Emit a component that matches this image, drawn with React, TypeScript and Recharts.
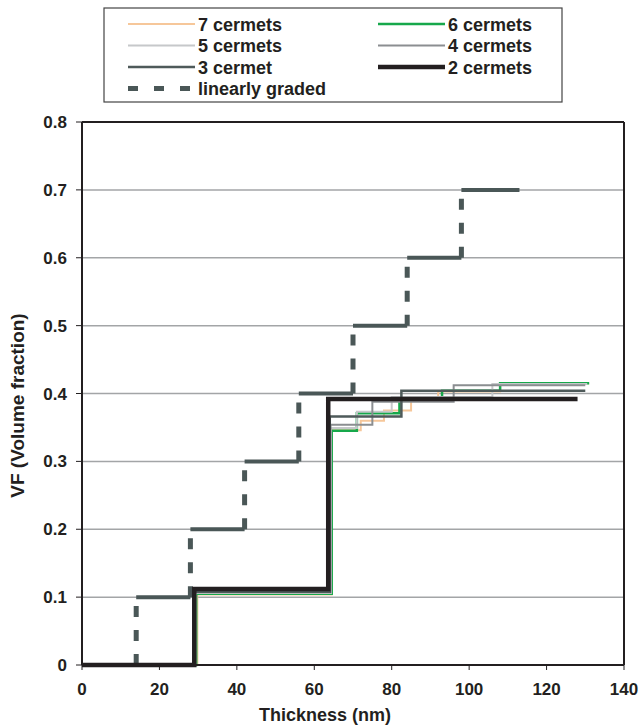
import React from "react";
import {
  LineChart,
  Line,
  XAxis,
  YAxis,
  CartesianGrid,
  ReferenceLine,
} from "recharts";

// layer boundaries (nm) and volume fraction of each layer
const cermet7X = [0, 29.8, 64.5, 72, 78, 85, 92, 108, 131];
const cermet7VF = [0, 0.104, 0.346, 0.36, 0.375, 0.39, 0.403, 0.415];
const cermet6X = [0, 29.5, 64.5, 71, 82, 93, 108, 131];
const cermet6VF = [0, 0.105, 0.345, 0.371, 0.392, 0.404, 0.415];
const cermet5X = [0, 29.3, 64.3, 71, 80, 106, 130.5];
const cermet5VF = [0, 0.106, 0.349, 0.373, 0.395, 0.414];
const cermet4X = [0, 29.2, 64.2, 75, 96, 130];
const cermet4VF = [0, 0.107, 0.354, 0.388, 0.412];
const cermet3X = [0, 29, 64, 82.5, 130];
const cermet3VF = [0, 0.108, 0.366, 0.404];
const cermet2X = [0, 29, 63.6, 128];
const cermet2VF = [0, 0.112, 0.392];
const gradedX = [0, 14, 28, 42, 56, 70, 84, 98, 113];
const gradedVF = [0, 0.1, 0.2, 0.3, 0.4, 0.5, 0.6, 0.7];

const xTicks = [0, 20, 40, 60, 80, 100, 120, 140];
const yTicks = [0, 0.1, 0.2, 0.3, 0.4, 0.5, 0.6, 0.7, 0.8];

const FONT = '"Liberation Sans", Arial, sans-serif';
const INK = "#231f20";

type Pt = { x: number; y: number | null };

// turn boundaries + levels into step points
const steps = (xs: number[], vf: number[]): Pt[] => {
  const pts: Pt[] = [];
  vf.forEach((v, i) => {
    pts.push({ x: xs[i], y: v });
    pts.push({ x: xs[i + 1], y: v });
  });
  return pts;
};

// horizontal parts of the graded profile (drawn solid)
const treads = (xs: number[], vf: number[]): Pt[] => {
  const pts: Pt[] = [];
  vf.forEach((v, i) => {
    pts.push({ x: xs[i], y: v }, { x: xs[i + 1], y: v }, { x: xs[i + 1], y: null });
  });
  return pts;
};

// vertical parts of the graded profile (drawn dashed)
const risers = (xs: number[], vf: number[]): Pt[] => {
  const pts: Pt[] = [];
  for (let i = 1; i < vf.length; i++) {
    pts.push({ x: xs[i], y: vf[i - 1] }, { x: xs[i], y: vf[i] }, { x: xs[i], y: null });
  }
  return pts;
};

const series = [
  { name: "7 cermets", xs: cermet7X, vf: cermet7VF, color: "#f6c79a", width: 2 },
  { name: "6 cermets", xs: cermet6X, vf: cermet6VF, color: "#17a84b", width: 2.5 },
  { name: "5 cermets", xs: cermet5X, vf: cermet5VF, color: "#c6c8ca", width: 2 },
  { name: "4 cermets", xs: cermet4X, vf: cermet4VF, color: "#8b8e91", width: 2 },
  { name: "3 cermet", xs: cermet3X, vf: cermet3VF, color: "#4e5a5a", width: 2.5 },
  { name: "2 cermets", xs: cermet2X, vf: cermet2VF, color: INK, width: 4.5 },
];
const GRADED = "#4a5757";

const LegendBox = () => {
  const rowY = (r: number) => 24 + r * 21.5;
  return (
    <svg
      width={460}
      height={96}
      style={{ position: "absolute", left: 103, top: 7 }}
    >
      <rect x={1} y={1} width={458} height={94} fill="#fff" stroke="#444" strokeWidth={1.2} />
      {series.map((s, i) => {
        const col = i % 2;
        const lx = col === 0 ? 25 : 275;
        const y = rowY(Math.floor(i / 2)) - 7;
        return (
          <g key={s.name}>
            <line x1={lx} x2={lx + 67} y1={y} y2={y} stroke={s.color} strokeWidth={s.width} />
            <text x={lx + 70} y={y + 6.5} fontFamily={FONT} fontWeight="bold" fontSize={18} fill={INK}>
              {s.name}
            </text>
          </g>
        );
      })}
      <line x1={25} x2={92} y1={rowY(3) - 7} y2={rowY(3) - 7} stroke={GRADED} strokeWidth={5} strokeDasharray="10 16" />
      <text x={95} y={rowY(3) - 0.5} fontFamily={FONT} fontWeight="bold" fontSize={18} fill={INK}>
        linearly graded
      </text>
    </svg>
  );
};

const App: React.FC = () => {
  const tickStyle = { fontFamily: FONT, fontWeight: "bold", fontSize: 17, fill: INK };
  return (
    <div style={{ position: "absolute", left: 0, top: 0, width: 641, height: 726, background: "#fff" }}>
      <LineChart
        width={641}
        height={726}
        margin={{ top: 122, right: 17, left: 0, bottom: 0 }}
      >
        <CartesianGrid vertical={false} stroke="#a3a5a7" strokeWidth={1.5} />
        <XAxis
          type="number"
          dataKey="x"
          domain={[0, 140]}
          ticks={xTicks}
          height={61}
          tickSize={5}
          tickMargin={13}
          tick={tickStyle}
          stroke={INK}
          axisLine={{ stroke: INK, strokeWidth: 2 }}
          tickLine={{ stroke: INK }}
          label={({ viewBox }: any) => (
            <text
              x={viewBox.x + viewBox.width / 2 - 28}
              y={viewBox.y + 56}
              textAnchor="middle"
              fontFamily={FONT}
              fontWeight="bold"
              fontSize={18}
              fill={INK}
            >
              Thickness (nm)
            </text>
          )}
        />
        <YAxis
          type="number"
          domain={[0, 0.8]}
          ticks={yTicks}
          width={82}
          tickSize={6}
          tickMargin={9}
          tick={tickStyle}
          tickFormatter={(v: number) => (v === 0 ? "0" : v.toFixed(1))}
          axisLine={{ stroke: INK, strokeWidth: 2 }}
          tickLine={{ stroke: INK }}
          label={({ viewBox }: any) => {
            const cy = viewBox.y + viewBox.height / 2 + 12;
            return (
              <text
                x={24}
                y={cy}
                transform={`rotate(-90, 24, ${cy})`}
                textAnchor="middle"
                fontFamily={FONT}
                fontWeight="bold"
                fontSize={19}
                fill={INK}
              >
                VF (Volume fraction)
              </text>
            );
          }}
        />
        <ReferenceLine y={0.8} stroke={INK} strokeWidth={2} />
        <ReferenceLine x={140} stroke={INK} strokeWidth={2} />
        <Line
          data={treads(gradedX, gradedVF)}
          dataKey="y"
          stroke={GRADED}
          strokeWidth={4}
          dot={false}
          connectNulls={false}
          isAnimationActive={false}
        />
        <Line
          data={risers(gradedX, gradedVF)}
          dataKey="y"
          stroke={GRADED}
          strokeWidth={5}
          strokeDasharray="11 13"
          dot={false}
          connectNulls={false}
          isAnimationActive={false}
        />
        {series.map((s) => (
          <Line
            key={s.name}
            data={steps(s.xs, s.vf)}
            dataKey="y"
            name={s.name}
            stroke={s.color}
            strokeWidth={s.width}
            dot={false}
            isAnimationActive={false}
          />
        ))}
      </LineChart>
      <LegendBox />
    </div>
  );
};

export default App;
